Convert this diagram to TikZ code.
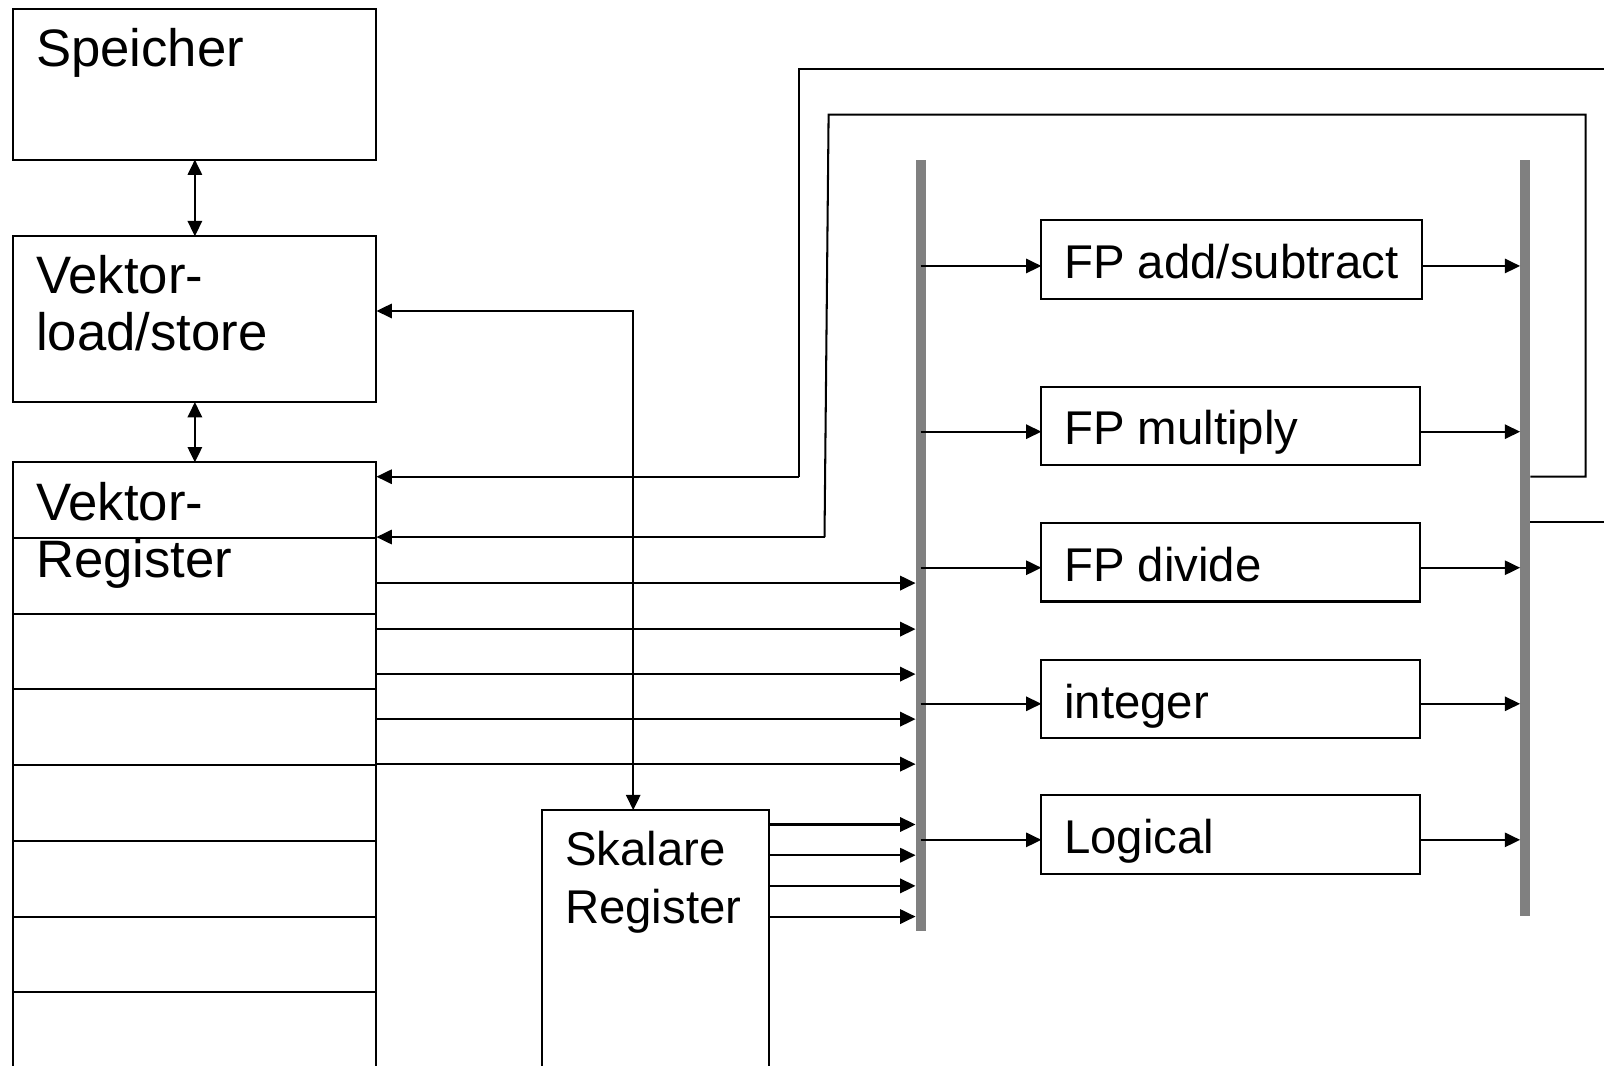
\documentclass[tikz,border=0pt]{standalone}
\usepackage{fontspec}
\setmainfont{Liberation Sans}
\usetikzlibrary{arrows.meta}
\definecolor{busgray}{HTML}{808080}
\begin{document}
\begin{tikzpicture}[x=0.5pt,y=-0.5pt,
  box/.style={draw, line width=1pt, anchor=north west, inner sep=0pt, outer sep=0pt},
  big/.style={anchor=base west, inner sep=0pt, align=left, font=\fontsize{25.75}{28}\selectfont},
  small/.style={anchor=base west, inner sep=0pt, align=left, font=\fontsize{23.15}{28.5}\selectfont},
  busnode/.style={fill=busgray, draw=none, inner sep=0pt, outer sep=0pt, minimum width=5pt},
  conn/.style={line width=1pt},
  arr/.style={conn, -{Triangle[length=7.5pt,width=7pt]}},
  darr/.style={conn, {Triangle[length=7.5pt,width=7pt]}-{Triangle[length=7.5pt,width=7pt]}},
]
\useasboundingbox (0,0) rectangle (1568,1042);
\clip (0,0) rectangle (1568,1042);

% boxes
\node[box, minimum width=177.5pt, minimum height=73.5pt] (spe) at (13,9) {};
\node[box, minimum width=177.5pt, minimum height=81pt] (vls) at (13,231) {};
\node[box, minimum width=177.5pt, minimum height=304pt] (vr) at (13,452) {};
\node[box, minimum width=111pt, minimum height=135pt] (sk) at (530,792) {};
\node[box, minimum width=186pt, minimum height=38.5pt] (fpa) at (1018,215) {};
\node[box, minimum width=185pt, minimum height=38.5pt] (fpm) at (1018,378) {};
\node[box, minimum width=185pt, minimum height=38.5pt] (fpd) at (1018,511) {};
\node[box, minimum width=185pt, minimum height=38pt] (int) at (1018,645) {};
\node[box, minimum width=185pt, minimum height=38.5pt] (log) at (1018,777) {};

% register dividers
\foreach \y in {526,600,674,748,822,896,970}{
  \draw[conn] (13,\y) -- (368,\y);
}

% texts (base = baseline of last line)
\node[big] (tspe) at (35,65) {Speicher};
\node[big] (tvls) at (35,343) {Vektor-\\load/store};
\node[big] (tvr) at (35,565) {Vektor-\\Register};
\node[small] (tsk) at (552,903) {Skalare\\Register};
\node[small] (tfpa) at (1040,272) {FP add/subtract};
\node[small] (tfpm) at (1040,435) {FP multiply};
\node[small] (tfpd) at (1040,568) {FP divide};
\node[small] (tint) at (1040,702) {integer};
\node[small] (tlog) at (1040,834) {Logical};

% buses
\node[busnode, minimum height=377pt] (lbus) at (900,533) {};
\node[busnode, minimum height=369.5pt] (rbus) at (1491,525.5) {};

% memory path
\draw[darr] (spe.south) -- (vls.north);
\draw[darr] (vls.south) -- (vr.north);
\coordinate (skj) at (619,304);
\draw[darr] (vls.east |- skj) -- (skj) -- (skj |- sk.north);

% vector registers to bus
\foreach \y in {570,615,659,703,747}{
  \coordinate (t) at (0,\y);
  \draw[arr] (vr.east |- t) -- (lbus.west |- t);
}
% scalar registers to bus
\foreach \y in {806,836,866,896}{
  \coordinate (t) at (0,\y);
  \draw[arr] (sk.east |- t) -- (lbus.west |- t);
}

% functional units
\foreach \u/\y in {fpa/260,fpm/422,fpd/555,int/688,log/821}{
  \coordinate (t) at (0,\y);
  \draw[arr] (lbus |- t) -- (\u.west |- t);
  \draw[arr] (\u.east |- t) -- (rbus.west |- t);
}

% feedback loops
\coordinate (fa) at (0,466);
\coordinate (fb) at (0,525);
\coordinate (fc) at (0,510);
\draw[conn] (rbus.east |- fa) -- (1550,466) -- (1550,112) -- (810,112) -- (806,525);
\draw[arr] (806,525) -- (vr.east |- fb);
\draw[conn] (1600,67) -- (781,67) -- (781,466);
\draw[arr] (781,466) -- (vr.east |- fa);
\draw[conn] (rbus.east |- fc) -- (1600,510);
\end{tikzpicture}
\end{document}
